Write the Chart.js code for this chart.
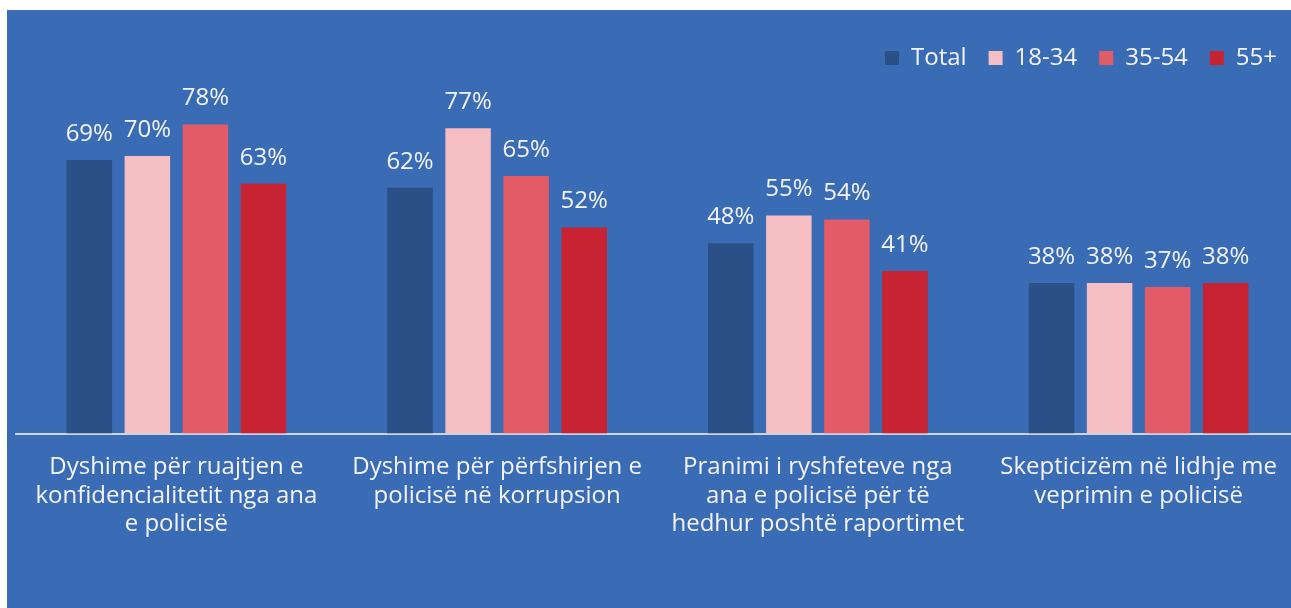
<!DOCTYPE html>
<html>
<head>
<meta charset="utf-8">
<script src="https://cdn.jsdelivr.net/npm/chart.js@4.4.1/dist/chart.umd.min.js"></script>
<style>
    html, body { margin: 0; padding: 0; background: #ffffff; overflow: hidden; }
    .panel {
        position: absolute;
        left: 7px;
        top: 10px;
        width: 1300px;
        height: 598px;
        background: #3a6bb5;
    }
</style>
</head>
<body>
<div class="panel">
    <canvas id="policeChart" width="1300" height="598"></canvas>
</div>
<script>
// Categories (multi-line labels as shown on the chart)
const categories = [
    ['Dyshime për ruajtjen e', 'konfidencialitetit nga ana', 'e policisë'],
    ['Dyshime për përfshirjen e', 'policisë në korrupsion'],
    ['Pranimi i ryshfeteve nga', 'ana e policisë për të', 'hedhur poshtë raportimet'],
    ['Skepticizëm në lidhje me', 'veprimin e policisë']
];

// Series values (%)
const totalValues = [69, 62, 48, 38];
const age1834Values = [70, 77, 55, 38];
const age3554Values = [78, 65, 54, 37];
const age55Values = [63, 52, 41, 38];

const seriesNames = ['Total', '18-34', '35-54', '55+'];
const seriesColors = ['#2b4f87', '#f5bec3', '#e35b66', '#c82333'];

// Draws the value above each bar
const valueLabels = {
    id: 'valueLabels',
    afterDatasetsDraw(chart) {
        const ctx = chart.ctx;
        ctx.save();
        ctx.fillStyle = '#f4f4f4';
        ctx.font = '24px "Open Sans"';
        ctx.textAlign = 'center';
        ctx.textBaseline = 'middle';
        chart.data.datasets.forEach((ds, i) => {
            const meta = chart.getDatasetMeta(i);
            meta.data.forEach((bar, j) => {
                ctx.fillText(ds.data[j] + '%', bar.x, bar.y - 26);
            });
        });
        ctx.restore();
    }
};

Chart.defaults.font.family = '"Open Sans", sans-serif';
Chart.defaults.color = '#f4f4f4';

const seriesValues = [totalValues, age1834Values, age3554Values, age55Values];

new Chart(document.getElementById('policeChart').getContext('2d'), {
    type: 'bar',
    data: {
        labels: categories,
        datasets: seriesValues.map((vals, i) => ({
            label: seriesNames[i],
            data: vals,
            backgroundColor: seriesColors[i],
            borderWidth: 0,
            categoryPercentage: 0.724,
            barPercentage: 0.784
        }))
    },
    options: {
        responsive: false,
        animation: false,
        layout: {
            padding: { left: 9, right: 8, top: 14, bottom: 50 }
        },
        plugins: {
            tooltip: { enabled: false },
            legend: {
                position: 'top',
                align: 'end',
                labels: {
                    boxWidth: 14,
                    boxHeight: 14,
                    padding: 22,
                    color: '#f4f4f4',
                    font: { size: 24 }
                }
            }
        },
        scales: {
            x: {
                grid: { display: false, drawTicks: false },
                border: { display: true, color: '#cfd3da', width: 2 },
                ticks: {
                    autoSkip: false,
                    maxRotation: 0,
                    padding: 19,
                    color: '#f4f4f4',
                    font: { size: 24 }
                }
            },
            y: {
                display: false,
                min: 0,
                max: 89.2
            }
        }
    },
    plugins: [valueLabels]
});
</script>
</body>
</html>
